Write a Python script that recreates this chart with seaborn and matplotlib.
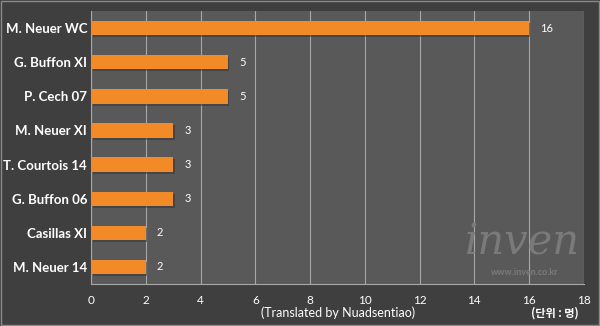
import matplotlib
matplotlib.use("Agg")
import matplotlib.pyplot as plt
import seaborn as sns
import pandas as pd
from matplotlib.patches import Rectangle

players = ["M. Neuer WC", "G. Buffon XI", "P. Cech 07", "M. Neuer XI",
           "T. Courtois 14", "G. Buffon 06", "Casillas XI", "M. Neuer 14"]
values = [16, 5, 5, 3, 3, 3, 2, 2]
x_ticks = [0, 2, 4, 6, 8, 10, 12, 14, 16, 18]

df = pd.DataFrame({"player": players, "value": values})

sns.set_style("dark")
plt.rcParams['font.family'] = ['Lato', 'Noto Sans CJK KR', 'DejaVu Sans']

fig = plt.figure(figsize=(6, 3.26), dpi=100, facecolor="#3f3f3f")
ax = fig.add_axes([0.152, 0.129, 0.821, 0.837])
ax.set_facecolor("#595959")

sns.barplot(data=df, y="player", x="value", orient="h", color="#f28a28",
            width=0.42, ax=ax, saturation=1, edgecolor="none", zorder=3)

# subtle shadow beneath bars
for p in list(ax.patches):
    sh = Rectangle((p.get_x() + 0.05, p.get_y() + 0.06), p.get_width(), p.get_height(),
                   facecolor="#333333", alpha=0.5, zorder=2, edgecolor="none")
    ax.add_patch(sh)

ax.set_xlim(0, 18)
ax.set_ylim(len(players) - 0.5, -0.5)
ax.set_xticks(x_ticks)
ax.set_xticklabels([str(t) for t in x_ticks], color="white", fontsize=8.5)
ax.xaxis.grid(True, color="#a8a8a8", linewidth=0.8, zorder=0)
ax.yaxis.grid(False)
ax.set_xlabel("")
ax.set_ylabel("")

ax.set_yticks(range(len(players)))
ax.set_yticklabels(players, color="white", fontsize=9.5, fontweight="bold")
ax.tick_params(axis="y", length=0, pad=3)
ax.set_yticks([i - 0.5 for i in range(len(players) + 1)], minor=True)
ax.tick_params(axis="y", which="minor", length=5, color="#a8a8a8", width=0.8)
ax.tick_params(axis="x", length=5, color="#a8a8a8", width=0.8, pad=3)

for s in ["top", "right"]:
    ax.spines[s].set_visible(False)
ax.spines["left"].set_color("#a8a8a8")
ax.spines["bottom"].set_color("#a8a8a8")
ax.spines["left"].set_linewidth(0.8)
ax.spines["bottom"].set_linewidth(0.8)

for i, v in enumerate(values):
    ax.text(v + 0.4, i, str(v), va="center", ha="left", color="white", fontsize=8, zorder=4)

# watermark
fig.text(0.87, 0.255, "inven", color="#7a7a7a", fontsize=30, fontstyle="italic",
         family="DejaVu Serif", ha="center", va="center", zorder=1)
fig.text(0.875, 0.165, "www.inven.co.kr", color="#7a7a7a", fontsize=6.5,
         fontweight="bold", ha="center", va="center")

fig.text(0.563, 0.04, "(Translated by Nuadsentiao)", color="white", fontsize=9,
         ha="center", va="center")
fig.text(0.925, 0.04, "(단위 : 명)", color="white", fontsize=8, fontweight="bold",
         ha="center", va="center", family=["Noto Sans CJK KR", "DejaVu Sans"])

# outer border
fig.patches.append(Rectangle((0.002, 0.003), 0.996, 0.994, transform=fig.transFigure,
                             fill=False, edgecolor="#8a8a8a", linewidth=1))

fig.savefig("out.png", dpi=100, facecolor=fig.get_facecolor())
